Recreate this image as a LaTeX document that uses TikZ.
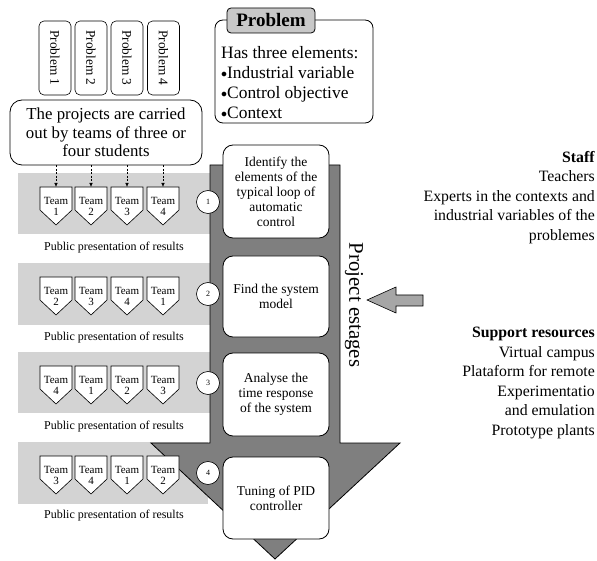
\documentclass[tikz,border=0pt]{standalone}
\usepackage{fontspec}
\setmainfont{Liberation Serif}
\usetikzlibrary{arrows.meta}
\definecolor{bandgray}{HTML}{D3D3D3}
\definecolor{arrowgray}{HTML}{7F7F7F}
\definecolor{smallgray}{HTML}{A6A6A6}
\definecolor{headgray}{HTML}{C8C8C8}
\tikzset{
  probbox/.style={draw, line width=0.6pt, rounded corners=5pt, rotate=-90, minimum width=74pt, minimum height=32pt, inner sep=0pt, font=\fontsize{13.3}{14}\selectfont},
  stagebox/.style={draw, line width=0.8pt, fill=white, rounded corners=10pt, minimum width=106pt, align=center, inner sep=0pt, font=\fontsize{13.5}{15}\selectfont},
  bandrect/.style={fill=bandgray, draw=none},
  teamline/.style={draw, fill=white, line width=0.6pt},
  teamtext/.style={align=center, inner sep=0pt, font=\fontsize{11}{11}\selectfont},
  numcirc/.style={circle, draw, line width=0.6pt, fill=white, minimum size=23pt, inner sep=0pt, font=\fontsize{8}{8}\selectfont},
  pubtext/.style={inner sep=0pt, font=\fontsize{12}{12}\selectfont},
  righttext/.style={align=right, anchor=east, inner sep=0pt, font=\fontsize{15.8}{19.5}\selectfont},
  dasharrow/.style={dash pattern=on 2pt off 1.5pt, line width=0.6pt, -{Latex[length=4pt,width=3.5pt]}},
}
\newcommand{\teamshape}[4]{%
  \draw[teamline] (#2-16,#3) -- (#2+16,#3) -- (#2+16,#3+23) -- (#2,#3+38) -- (#2-16,#3+23) -- cycle;
  \node[teamtext] (#1) at (#2,#3+19) {Team\\#4};
  \coordinate (#1top) at (#2,#3);
}
\newcommand{\blt}{\raisebox{0.08em}{\fontsize{13}{13}\selectfont$\bullet$}}
\begin{document}
\begin{tikzpicture}[x=1pt,y=-1pt]
\useasboundingbox (0,0) rectangle (597,561);

% bands
\fill[bandrect] (18,173) rectangle (210,234);
\fill[bandrect] (18,263) rectangle (210,325);
\fill[bandrect] (18,352) rectangle (210,413);
\fill[bandrect] (18,442) rectangle (208,504);

% big arrow
\draw[fill=arrowgray, line width=0.8pt] (210,165) -- (340,165) -- (340,443) -- (400,443) -- (275,559) -- (151,443) -- (210,443) -- cycle;

% problem boxes
\node[probbox] (p1) at (55,58) {Problem 1};
\node[probbox] (p2) at (91,58) {Problem 2};
\node[probbox] (p3) at (127,58) {Problem 3};
\node[probbox] (p4) at (163.5,58) {Problem 4};

% projects box
\node[draw, line width=0.8pt, rounded corners=12pt, minimum width=192pt, minimum height=65pt, align=center, inner sep=0pt, font=\fontsize{16.8}{18.5}\selectfont] (proj) at (106,132.5) {The projects are carried\\out by teams of three or\\four students};

% problem description box
\draw[line width=0.8pt, rounded corners=8pt] (215,20) rectangle (373,123);
\node[draw, line width=0.8pt, fill=headgray, rounded corners=4pt, minimum width=88pt, minimum height=25pt, inner sep=0pt, font=\fontsize{19}{19}\selectfont\bfseries] (phead) at (271,20.5) {Problem};
\node[anchor=west, align=left, inner sep=0pt, font=\fontsize{17.4}{20}\selectfont] (pdesc) at (221,83) {Has three elements:\\\blt Industrial variable\\\blt Control objective\\\blt Context};

% teams
\teamshape{ta1}{56}{187}{1}
\teamshape{ta2}{91}{187}{2}
\teamshape{ta3}{127}{187}{3}
\teamshape{ta4}{163}{187}{4}
\teamshape{tb1}{56}{277}{2}
\teamshape{tb2}{91}{277}{3}
\teamshape{tb3}{127}{277}{4}
\teamshape{tb4}{163}{277}{1}
\teamshape{tc1}{56}{366}{4}
\teamshape{tc2}{91}{366}{1}
\teamshape{tc3}{127}{366}{2}
\teamshape{tc4}{163}{366}{3}
\teamshape{td1}{56}{456}{3}
\teamshape{td2}{91}{456}{4}
\teamshape{td3}{127}{456}{1}
\teamshape{td4}{163}{456}{2}

% dashed arrows
\foreach \t in {ta1,ta2,ta3,ta4}
  \draw[dasharrow] (proj.south -| \t top) -- (\t top);

% public presentation texts
\node[pubtext] (pub1) at (114,248) {Public presentation of results};
\node[pubtext] (pub2) at (114,338) {Public presentation of results};
\node[pubtext] (pub3) at (114,427) {Public presentation of results};
\node[pubtext] (pub4) at (114,516) {Public presentation of results};

% stage boxes
\node[stagebox, minimum height=93pt] (s1) at (276,191.5) {Identify the\\elements of the\\typical loop of\\automatic\\control};
\node[stagebox, minimum height=81pt] (s2) at (276,296.5) {Find the system\\model};
\node[stagebox, minimum height=83pt] (s3) at (276,394.5) {Analyse the\\time response\\of the system};
\node[stagebox, minimum height=82pt] (s4) at (276,498) {Tuning of PID\\controller};

% number circles
\node[numcirc] (c1) at (208,202) {1};
\node[numcirc] (c2) at (208,294) {2};
\node[numcirc] (c3) at (208,383) {3};
\node[numcirc] (c4) at (208,473) {4};

% project estages label
\node[rotate=-90, inner sep=0pt, font=\fontsize{20.8}{21}\selectfont] (pest) at (354,305) {Project estages};

% small arrow
\draw[fill=smallgray, line width=0.6pt] (367,300) -- (396,287) -- (396,295) -- (423,295) -- (423,306) -- (396,306) -- (396,313) -- cycle;

% right texts
\node[righttext] (staff) at (595,197.5) {\textbf{Staff}\\Teachers\\Experts in the contexts and\\industrial variables of the\\problemes};
\node[righttext] (supp) at (595,383) {\textbf{Support resources}\\Virtual campus\\Plataform for remote\\Experimentatio\\and emulation\\Prototype plants};
\end{tikzpicture}
\end{document}
